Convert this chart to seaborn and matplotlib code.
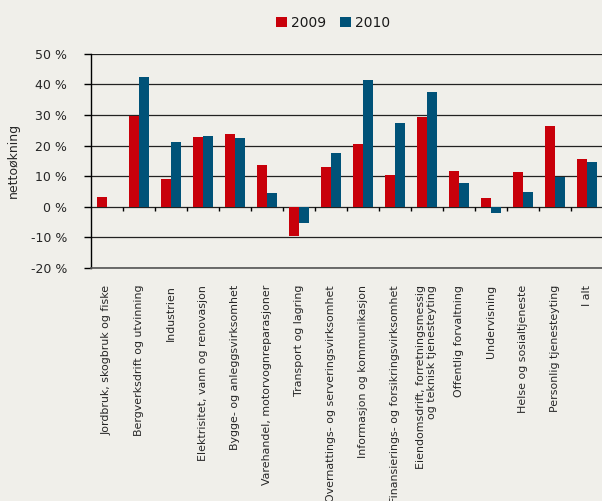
import numpy as np
import pandas as pd
import matplotlib
matplotlib.use("Agg")
import matplotlib.pyplot as plt
import seaborn as sns

# --- data ---
naeringer = [
    "Jordbruk, skogbruk og fiske",
    "Bergverksdrift og utvinning",
    "Industrien",
    "Elektrisitet, vann og renovasjon",
    "Bygge- og anleggsvirksomhet",
    "Varehandel, motorvognreparasjoner",
    "Transport og lagring",
    "Overnattings- og serveringsvirksomhet",
    "Informasjon og kommunikasjon",
    "Finansierings- og forsikringsvirksomhet",
    "Eiendomsdrift, forretningsmessig\nog teknisk tjenesteyting",
    "Offentlig forvaltning",
    "Undervisning",
    "Helse og sosialtjeneste",
    "Personlig tjenesteyting",
    "I alt",
]
aar = ["2009", "2010"]
v2009 = [3.2, 29.8, 9.0, 22.8, 23.7, 13.6, -9.6, 13.0, 20.5, 10.3, 29.3, 11.7, 2.8, 11.3, 26.4, 15.6]
v2010 = [0.0, 42.4, 21.1, 23.1, 22.4, 4.5, -5.3, 17.5, 41.4, 27.3, 37.5, 7.7, -2.0, 4.8, 9.8, 14.6]
yticks = [-20, -10, 0, 10, 20, 30, 40, 50]

df = pd.DataFrame({
    "naering": naeringer * 2,
    "aar": [aar[0]] * len(naeringer) + [aar[1]] * len(naeringer),
    "verdi": v2009 + v2010,
})

BG = "#f0efea"
RED = "#c8000a"
BLUE = "#005278"

sns.set_style("white")
plt.rcParams["font.family"] = ["DejaVu Sans"]
plt.rcParams["text.color"] = "#1a1a1a"

fig = plt.figure(figsize=(6.02, 5.01), dpi=100, facecolor=BG)
ax = fig.add_axes([90.7 / 602, 1 - 268 / 501, 512 / 602, (268 - 53.7) / 501])
ax.set_facecolor(BG)

sns.barplot(data=df, x="naering", y="verdi", hue="aar", order=naeringer,
            hue_order=aar, palette=[RED, BLUE], width=0.625, gap=0,
            linewidth=0, saturation=1, ax=ax)

ax.set_xlim(-0.5, len(naeringer) - 0.5)
ax.set_ylim(-20, 50)
ax.set_yticks(yticks)
ax.set_yticklabels([f"{t} %" for t in yticks], fontsize=9)
ax.yaxis.grid(True, color="#222222", linewidth=0.9)
ax.set_axisbelow(True)
ax.tick_params(axis="y", length=5, width=1, color="black", pad=12, direction="out", left=True)

ax.set_xticks(range(len(naeringer)))
ax.set_xticklabels(naeringer, rotation=90, fontsize=7.9, va="top", ha="center",
                   multialignment="right")
ax.tick_params(axis="x", length=0, pad=12.2)
ax.set_xlabel("")
ax.set_ylabel("nettoøkning", fontsize=9, labelpad=8)

# small marks between categories on the zero line
ax.vlines(np.arange(len(naeringer) - 1) + 0.5, -1.3, 0, color="black", linewidth=1)

for s in ["top", "right"]:
    ax.spines[s].set_visible(False)
ax.spines["bottom"].set_color("#555555")
ax.spines["bottom"].set_linewidth(1.2)
ax.spines["left"].set_color("black")
ax.spines["left"].set_linewidth(1)

sns.move_legend(ax, "center", bbox_to_anchor=(333 / 602, 1 - 23 / 501),
                bbox_transform=fig.transFigure, ncol=2, frameon=False, title=None,
                fontsize=10, handlelength=0.8, handleheight=0.8, handletextpad=0.3,
                columnspacing=1.0)

fig.savefig("out.png", dpi=100, facecolor=BG)
